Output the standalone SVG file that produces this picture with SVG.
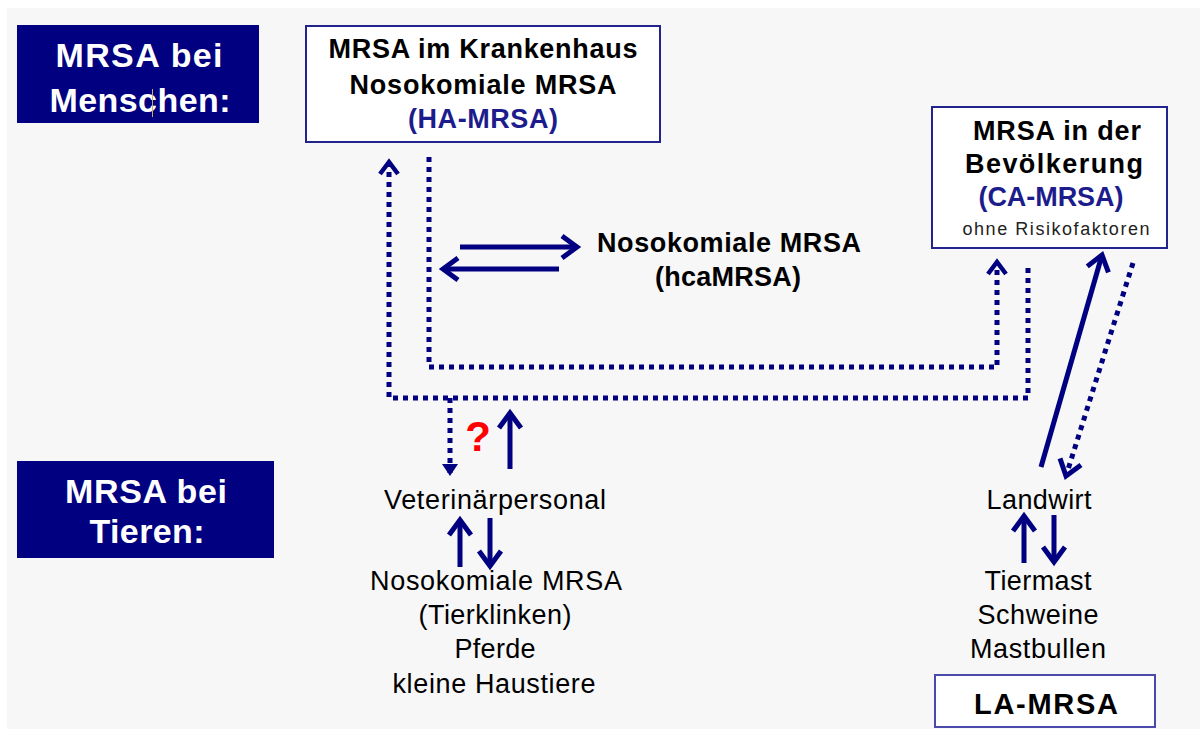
<svg xmlns="http://www.w3.org/2000/svg" width="1200" height="729" viewBox="0 0 1200 729">
<style>
text{font-family:"Liberation Sans",Arial,sans-serif;text-anchor:middle}
.b{font-weight:bold}
.big{font-size:34px;fill:#fff;font-weight:bold}
.h{font-size:27px;fill:#000;font-weight:bold}
.blue{fill:#1c1c8c}
.n{font-size:27px;fill:#000}
.box{fill:#fff;stroke:#23238f;stroke-width:2}
.navy{fill:#000080}
.sol{fill:none;stroke:#000080;stroke-width:5}
.dot{fill:none;stroke:#000080;stroke-width:5;stroke-dasharray:5 5}
</style>
<defs>
<marker id="chev" markerUnits="userSpaceOnUse" markerWidth="24" markerHeight="28" viewBox="0 0 24 28" refX="19" refY="14" orient="auto">
<path d="M4,3 L19,14 L4,25" fill="none" stroke="#000080" stroke-width="5"/>
</marker>
<marker id="chevs" markerUnits="userSpaceOnUse" markerWidth="20" markerHeight="24" viewBox="0 0 20 24" refX="16" refY="12" orient="auto">
<path d="M4,3 L16,12 L4,21" fill="none" stroke="#000080" stroke-width="4.5"/>
</marker>
<marker id="tri" markerUnits="userSpaceOnUse" markerWidth="16" markerHeight="20" viewBox="0 0 16 20" refX="14" refY="10" orient="auto">
<path d="M2,2 L14,10 L2,18 Z" fill="#000080"/>
</marker>
</defs>
<rect x="0" y="0" width="1200" height="729" fill="#fff"/>
<rect x="7" y="8" width="1193" height="721" fill="#f7f7f7"/>

<g id="connectors">
<path class="dot" d="M1028,268 V398 H389 V162" marker-end="url(#chevs)"/>
<path class="dot" d="M429,157 V367 H997 V262" marker-end="url(#chevs)"/>
<path class="dot" d="M450,398 V476" marker-end="url(#tri)"/>
<path class="dot" d="M1133,263 L1066,476" marker-end="url(#chev)"/>
<path class="sol" d="M1041,467 L1102,255" marker-end="url(#chev)"/>
<path class="sol" d="M510,469 V413" marker-end="url(#chev)"/>
<path class="sol" d="M460,247 H577" marker-end="url(#chev)"/>
<path class="sol" d="M559,269 H443" marker-end="url(#chev)"/>
<path class="sol" d="M460,567 V520" marker-end="url(#chev)"/>
<path class="sol" d="M490,518 V566" marker-end="url(#chev)"/>
<path class="sol" d="M1024,563 V516" marker-end="url(#chev)"/>
<path class="sol" d="M1054,515 V562" marker-end="url(#chev)"/>
</g>

<g id="menschen">
<rect class="navy" x="17" y="25" width="242" height="98"/>
<text class="big" x="139" y="67" textLength="167" lengthAdjust="spacing">MRSA bei</text>
<text class="big" x="140" y="112" textLength="181" lengthAdjust="spacing">Menschen:</text>
<line x1="152.5" y1="89" x2="152.5" y2="117" stroke="#c8b060" stroke-width="1"/>
</g>

<g id="ha-mrsa">
<rect class="box" x="306" y="26" width="354" height="116"/>
<text class="h" x="483" y="58" textLength="309" lengthAdjust="spacing">MRSA im Krankenhaus</text>
<text class="h" x="483" y="94" textLength="267" lengthAdjust="spacing">Nosokomiale MRSA</text>
<text class="h blue" x="483" y="128" textLength="150" lengthAdjust="spacing">(HA-MRSA)</text>
</g>

<g id="ca-mrsa">
<rect class="box" x="932" y="107" width="235" height="141"/>
<text class="h" x="1057" y="140" textLength="168" lengthAdjust="spacing">MRSA in der</text>
<text class="h" x="1054" y="173" textLength="178" lengthAdjust="spacing">Bevölkerung</text>
<text class="h blue" x="1051" y="206" textLength="145" lengthAdjust="spacing">(CA-MRSA)</text>
<text x="1056" y="235" font-size="18" fill="#222" textLength="187" lengthAdjust="spacing">ohne Risikofaktoren</text>
</g>

<g id="hca-mrsa">
<text class="h" x="729" y="252" textLength="264" lengthAdjust="spacing">Nosokomiale MRSA</text>
<text class="h" x="728" y="286" textLength="146" lengthAdjust="spacing">(hcaMRSA)</text>
</g>

<g id="question">
<text class="b" x="478" y="451" font-size="42" fill="#ff0000">?</text>
</g>

<g id="tieren">
<rect class="navy" x="17" y="461" width="257" height="97"/>
<text class="big" x="146" y="503" textLength="162" lengthAdjust="spacing">MRSA bei</text>
<text class="big" x="147" y="543" textLength="115" lengthAdjust="spacing">Tieren:</text>
</g>

<g id="veterinaer">
<text class="n" x="495" y="509" textLength="222" lengthAdjust="spacing">Veterinärpersonal</text>
</g>

<g id="tierklinik">
<text class="n" x="496" y="590" textLength="252" lengthAdjust="spacing">Nosokomiale MRSA</text>
<text class="n" x="495" y="624" textLength="153" lengthAdjust="spacing">(Tierklinken)</text>
<text class="n" x="495" y="658" textLength="81" lengthAdjust="spacing">Pferde</text>
<text class="n" x="494" y="693" textLength="203" lengthAdjust="spacing">kleine Haustiere</text>
</g>

<g id="landwirt">
<text class="n" x="1039" y="509" textLength="105" lengthAdjust="spacing">Landwirt</text>
</g>

<g id="tiermast">
<text class="n" x="1038" y="590" textLength="107" lengthAdjust="spacing">Tiermast</text>
<text class="n" x="1038" y="624" textLength="121" lengthAdjust="spacing">Schweine</text>
<text class="n" x="1038" y="658" textLength="136" lengthAdjust="spacing">Mastbullen</text>
</g>

<g id="la-mrsa">
<rect class="box" x="935" y="675" width="220" height="52" style="stroke:#4a4aaa"/>
<text class="b" x="1046" y="714" font-size="29" textLength="144" lengthAdjust="spacing">LA-MRSA</text>
</g>
</svg>
